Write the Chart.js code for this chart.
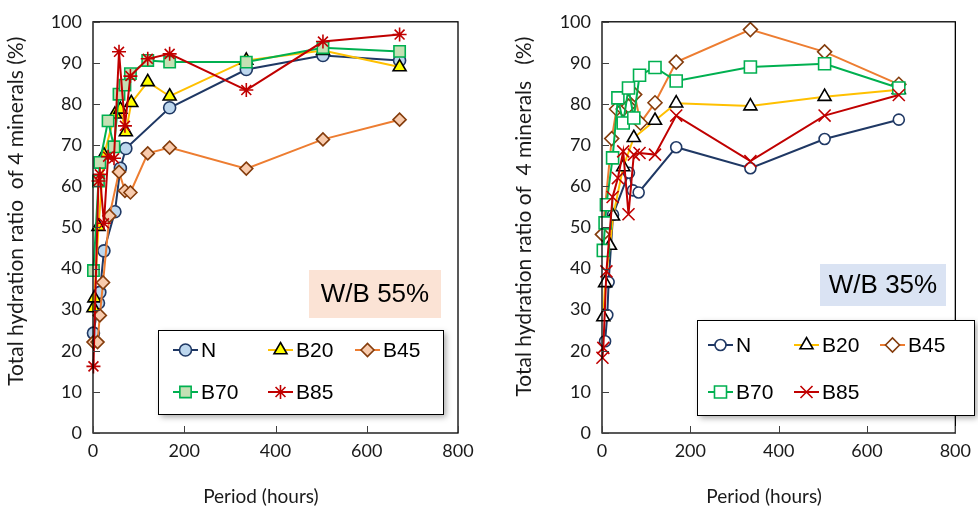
<!DOCTYPE html>
<html>
<head>
<meta charset="utf-8">
<script src="https://cdn.jsdelivr.net/npm/chart.js@4/dist/chart.umd.min.js"></script>
<style>
    html, body { margin: 0; padding: 0; background: #fff; }
    #wrap { position: relative; width: 978px; height: 515px; }
    .pane { position: absolute; top: 0; width: 489px; height: 515px; }
    #left { left: 0; }
    #right { left: 489px; }
</style>
</head>
<body>
<div id="wrap">
    <div class="pane" id="left"><canvas id="c55"></canvas></div>
    <div class="pane" id="right"><canvas id="c35"></canvas></div>
</div>
<script>
'use strict';

// series names
const seriesNames = ['N', 'B20', 'B45', 'B70', 'B85'];

// axis ticks
const xTicks = [0, 200, 400, 600, 800];
const yTicks = [0, 10, 20, 30, 40, 50, 60, 70, 80, 90, 100];

// W/B 55% (left panel)
const n55Hours = [1, 12, 15, 24, 48, 60, 72, 168, 336, 504, 672];
const n55Values = [24.3, 31.6, 34.2, 44.3, 53.8, 64.4, 69.2, 79.1, 88.4, 91.8, 90.6];
const b20_55Hours = [1, 3, 12, 24, 48, 60, 72, 84, 120, 168, 336, 504, 672];
const b20_55Values = [30.4, 32.8, 50.2, 67.6, 77.5, 78.7, 73.2, 80.3, 85.4, 81.9, 90.6, 93.0, 89.0];
const b45_55Hours = [1, 10, 15, 22, 36, 57, 70, 82, 120, 168, 336, 504, 672];
const b45_55Values = [22.1, 22.1, 28.6, 36.6, 52.8, 63.5, 58.9, 58.5, 68.0, 69.4, 64.3, 71.4, 76.2];
const b70_55Hours = [1, 12, 15, 33, 46, 57, 70, 82, 120, 168, 336, 504, 672];
const b70_55Values = [39.5, 61.3, 65.8, 75.9, 69.6, 82.4, 84.6, 87.4, 90.6, 90.2, 90.2, 93.7, 92.8];
const b85_55Hours = [1, 12, 15, 24, 33, 46, 57, 70, 82, 120, 168, 336, 504, 672];
const b85_55Values = [16.2, 61.3, 62.9, 51.0, 67.2, 66.8, 92.7, 74.7, 86.8, 91.0, 92.2, 83.4, 95.2, 96.9];

// W/B 35% (right panel)
const n35Hours = [7, 12, 15, 25, 61, 70, 83, 168, 336, 504, 672];
const n35Values = [22.3, 28.7, 36.7, 53.1, 63.3, 59.0, 58.5, 69.5, 64.4, 71.5, 76.2];
const b20_35Hours = [3, 7, 18, 25, 48, 72, 120, 168, 336, 504, 672];
const b20_35Values = [28.2, 36.5, 45.6, 52.7, 64.7, 71.8, 76.0, 80.2, 79.5, 81.8, 83.5];
const b45_35Hours = [1, 22, 33, 48, 60, 74, 87, 120, 168, 336, 504, 672];
const b45_35Values = [48.3, 71.6, 78.8, 78.8, 79.5, 82.3, 75.4, 80.3, 90.2, 98.1, 92.7, 84.8];
const b70_35Hours = [3, 7, 10, 24, 36, 48, 60, 72, 85, 120, 168, 336, 504, 672];
const b70_35Values = [44.4, 51.1, 55.5, 66.9, 81.5, 75.4, 83.9, 76.6, 87.0, 88.9, 85.6, 89.0, 89.8, 83.9];
const b85_35Hours = [1, 3, 10, 24, 36, 48, 60, 72, 85, 120, 168, 336, 504, 672];
const b85_35Values = [18.3, 20.7, 39.3, 57.4, 62.0, 68.5, 53.2, 67.7, 68.1, 67.7, 77.2, 66.1, 77.2, 82.2];

const FONT = 'Lato, "Liberation Sans", sans-serif';
const LEGEND_FONT = '"Liberation Sans", Arial, sans-serif';

function pairs(hours, values) {
    return hours.map((h, i) => ({x: h, y: values[i]}));
}

// marker looks, one per series
const filledStyles = [
    {line: '#1f3864', fill: '#bdd7ee', edge: '#1f3864', shape: 'circle', r: 6},
    {line: '#ffc000', fill: '#ffff00', edge: '#000000', shape: 'triangle', r: 7.5},
    {line: '#ed7d31', fill: '#f8cbad', edge: '#843c0c', shape: 'rectRot', r: 6.5},
    {line: '#00b050', fill: '#c5e0b4', edge: '#00b050', shape: 'rect', r: 8},
    {line: '#c00000', fill: '#c00000', edge: '#c00000', shape: 'star', r: 7}
];
const hollowStyles = [
    {line: '#1f3864', fill: '#ffffff', edge: '#1f3864', shape: 'circle', r: 5.5},
    {line: '#ffc000', fill: '#ffffff', edge: '#000000', shape: 'triangle', r: 7.5},
    {line: '#ed7d31', fill: '#ffffff', edge: '#843c0c', shape: 'rectRot', r: 7},
    {line: '#00b050', fill: '#ffffff', edge: '#00b050', shape: 'rect', r: 8.5},
    {line: '#c00000', fill: '#c00000', edge: '#c00000', shape: 'crossRot', r: 8.5}
];

function buildDatasets(series, styles) {
    return series.map((pts, i) => {
        const s = styles[i];
        return {
            label: seriesNames[i],
            data: pts,
            order: series.length - i,
            borderColor: s.line,
            borderWidth: 2,
            tension: 0,
            clip: false,
            pointStyle: s.shape,
            pointRadius: s.r,
            pointBackgroundColor: s.fill,
            pointBorderColor: s.edge,
            pointBorderWidth: 1.6,
            pointHoverRadius: s.r
        };
    });
}

// inward tick marks, plot frame, boxed legend and W/B tag
const panelDecor = {
    id: 'panelDecor',
    afterDraw(chart, args, opts) {
        const ctx = chart.ctx;
        const area = chart.chartArea;
        const xs = chart.scales.x, ys = chart.scales.y;
        ctx.save();
        ctx.strokeStyle = '#000';
        ctx.lineWidth = 1.3;
        ctx.strokeRect(area.left, area.top, area.right - area.left, area.bottom - area.top);
        ctx.beginPath();
        yTicks.forEach((v) => {
            const y = Math.round(ys.getPixelForValue(v)) + 0.5;
            ctx.moveTo(area.left, y);
            ctx.lineTo(area.left + 7, y);
        });
        xTicks.forEach((v) => {
            const x = Math.round(xs.getPixelForValue(v)) + 0.5;
            ctx.moveTo(x, area.bottom);
            ctx.lineTo(x, area.bottom - 7);
        });
        ctx.strokeStyle = '#404040';
        ctx.lineWidth = 1;
        ctx.stroke();

        // W/B tag
        const tag = opts.tag;
        ctx.fillStyle = tag.color;
        ctx.fillRect(tag.x, tag.y, tag.w, tag.h);
        ctx.fillStyle = '#000';
        ctx.font = '26px ' + LEGEND_FONT;
        ctx.textAlign = 'center';
        ctx.textBaseline = 'middle';
        ctx.fillText(tag.text, tag.x + tag.w / 2, tag.y + tag.h / 2 + 1);

        // legend box with shadow
        const lg = opts.legend;
        ctx.save();
        ctx.shadowColor = 'rgba(0,0,0,0.35)';
        ctx.shadowBlur = 6;
        ctx.shadowOffsetX = 3;
        ctx.shadowOffsetY = 3;
        ctx.fillStyle = '#fff';
        ctx.fillRect(lg.x, lg.y, lg.w, lg.h);
        ctx.restore();
        ctx.strokeStyle = '#000';
        ctx.lineWidth = 1;
        ctx.strokeRect(lg.x + 0.5, lg.y + 0.5, lg.w, lg.h);

        ctx.font = '21px ' + LEGEND_FONT;
        ctx.textAlign = 'left';
        ctx.textBaseline = 'middle';
        chart.data.datasets.forEach((ds, i) => {
            const col = i < 3 ? i : i - 3;
            const row = i < 3 ? 0 : 1;
            const x0 = lg.x + lg.itemX[col];
            const y = lg.y + lg.rowY[row];
            ctx.strokeStyle = ds.borderColor;
            ctx.lineWidth = 2;
            ctx.beginPath();
            ctx.moveTo(x0, y);
            ctx.lineTo(x0 + 25, y);
            ctx.stroke();
            ctx.fillStyle = ds.pointBackgroundColor;
            ctx.strokeStyle = ds.pointBorderColor;
            ctx.lineWidth = ds.pointBorderWidth;
            Chart.helpers.drawPoint(ctx, {
                pointStyle: ds.pointStyle,
                radius: ds.pointRadius,
                rotation: 0,
                borderWidth: ds.pointBorderWidth
            }, x0 + 12.5, y);
            ctx.fillStyle = '#000';
            ctx.fillText(ds.label, x0 + 28, y + 1);
        });
        ctx.restore();
    }
};

function makePanel(canvasId, series, styles, yAxisTitle, padLeft, padRight, decor) {
    return new Chart(document.getElementById(canvasId), {
        type: 'line',
        data: {datasets: buildDatasets(series, styles)},
        options: {
            responsive: true,
            maintainAspectRatio: false,
            animation: false,
            events: [],
            layout: {padding: {left: padLeft, right: padRight, top: 12, bottom: 3}},
            plugins: {
                legend: {display: false},
                tooltip: {enabled: false},
                panelDecor: decor
            },
            scales: {
                x: {
                    type: 'linear',
                    min: 0,
                    max: 800,
                    afterBuildTicks: (scale) => { scale.ticks = xTicks.map((v) => ({value: v})); },
                    afterFit: (scale) => { scale.height = 79; },
                    grid: {display: false, drawTicks: false},
                    border: {display: false},
                    ticks: {color: '#1a1a1a', padding: 7, maxRotation: 0, font: {family: FONT, size: 18}},
                    // trailing blanks pull the title slightly left, as in the source
                    title: {display: true, text: 'Period (hours)      ', color: '#1a1a1a', font: {family: FONT, size: 19}}
                },
                y: {
                    min: 0,
                    max: 100,
                    afterBuildTicks: (scale) => { scale.ticks = yTicks.map((v) => ({value: v})); },
                    afterFit: (scale) => { scale.width = decor.axisWidth; },
                    grid: {display: false, drawTicks: false},
                    border: {display: false},
                    ticks: {color: '#1a1a1a', padding: 11, font: {family: FONT, size: 18}},
                    title: {display: true, text: yAxisTitle, color: '#1a1a1a', font: {family: FONT, size: 21}}
                }
            }
        },
        plugins: [panelDecor]
    });
}

const series55 = [
    pairs(n55Hours, n55Values),
    pairs(b20_55Hours, b20_55Values),
    pairs(b45_55Hours, b45_55Values),
    pairs(b70_55Hours, b70_55Values),
    pairs(b85_55Hours, b85_55Values)
];
const series35 = [
    pairs(n35Hours, n35Values),
    pairs(b20_35Hours, b20_35Values),
    pairs(b45_35Hours, b45_35Values),
    pairs(b70_35Hours, b70_35Values),
    pairs(b85_35Hours, b85_35Values)
];

makePanel('c55', series55, filledStyles, '      Total hydration ratio  of 4 minerals (%)', 0, 31, {
    axisWidth: 93,
    tag: {x: 309, y: 270, w: 132, h: 48, color: '#fbe3d5', text: 'W/B 55%'},
    legend: {x: 158, y: 330, w: 285, h: 84, itemX: [15, 110, 197], rowY: [20, 62]}
});
makePanel('c35', series35, hollowStyles, '    Total hydration ratio of  4 minerals   (%)', 19, 15, {
    axisWidth: 94,
    tag: {x: 331, y: 264, w: 126, h: 42, color: '#dae3f3', text: 'W/B 35%'},
    legend: {x: 208, y: 320, w: 277, h: 95, itemX: [11, 97, 183], rowY: [25, 72]}
});
</script>
</body>
</html>
